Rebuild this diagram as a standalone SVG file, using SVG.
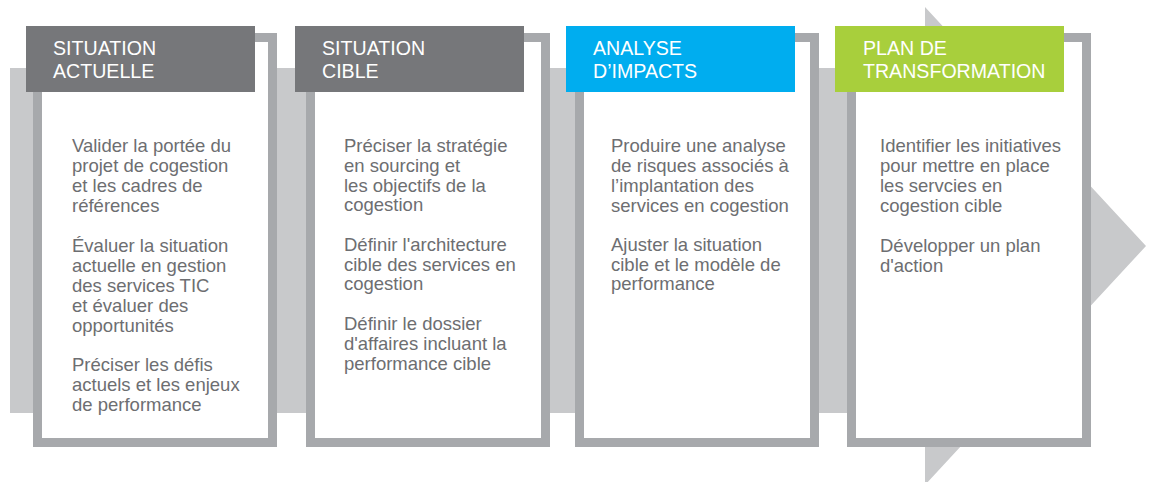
<svg xmlns="http://www.w3.org/2000/svg" width="1149" height="482" viewBox="0 0 1149 482">
<style>
.band{fill:#c8c9cb}
.frame{fill:#ffffff;stroke:#a7a9ac;stroke-width:9}
.hd{font-family:"Liberation Sans",Arial,sans-serif;font-size:19.6px;fill:#ffffff}
.bd{font-family:"Liberation Sans",Arial,sans-serif;font-size:18.5px;fill:#6d6e71}
</style>
<rect width="1149" height="482" fill="#ffffff"/>
<g id="connectors">
<path class="band" d="M10,68 H925 V7 L1146,246 L925,485 V413 H10 Z"/>
</g>
<g id="node-situation-actuelle">
<rect class="frame" x="37.5" y="37.5" width="235" height="405"/>
<rect x="26" y="26" width="229" height="66" fill="#76777a"/>
<text class="hd"><tspan x="53" y="55">SITUATION</tspan><tspan x="53" y="78">ACTUELLE</tspan></text>
<text class="bd">
<tspan x="72" y="152">Valider la portée du</tspan>
<tspan x="72" y="172">projet de cogestion</tspan>
<tspan x="72" y="192">et les cadres de</tspan>
<tspan x="72" y="212">références</tspan>
<tspan x="72" y="252">Évaluer la situation</tspan>
<tspan x="72" y="272">actuelle en gestion</tspan>
<tspan x="72" y="292">des services TIC</tspan>
<tspan x="72" y="312">et évaluer des</tspan>
<tspan x="72" y="332">opportunités</tspan>
<tspan x="72" y="371">Préciser les défis</tspan>
<tspan x="72" y="391">actuels et les enjeux</tspan>
<tspan x="72" y="411">de performance</tspan>
</text>
</g>
<g id="node-situation-cible">
<rect class="frame" x="310.5" y="37.5" width="235" height="405"/>
<rect x="295" y="26" width="229" height="66" fill="#76777a"/>
<text class="hd"><tspan x="322" y="55">SITUATION</tspan><tspan x="322" y="78">CIBLE</tspan></text>
<text class="bd">
<tspan x="344" y="152">Préciser la stratégie</tspan>
<tspan x="344" y="172">en sourcing et</tspan>
<tspan x="344" y="192">les objectifs de la</tspan>
<tspan x="344" y="211">cogestion</tspan>
<tspan x="344" y="251">Définir l'architecture</tspan>
<tspan x="344" y="271">cible des services en</tspan>
<tspan x="344" y="290">cogestion</tspan>
<tspan x="344" y="330">Définir le dossier</tspan>
<tspan x="344" y="350">d'affaires incluant la</tspan>
<tspan x="344" y="370">performance cible</tspan>
</text>
</g>
<g id="node-analyse-impacts">
<rect class="frame" x="579.5" y="37.5" width="235" height="405"/>
<rect x="566" y="26" width="229" height="66" fill="#00adef"/>
<text class="hd"><tspan x="593" y="55">ANALYSE</tspan><tspan x="593" y="78">D’IMPACTS</tspan></text>
<text class="bd">
<tspan x="611" y="152">Produire une analyse</tspan>
<tspan x="611" y="172">de risques associés à</tspan>
<tspan x="611" y="192">l’implantation des</tspan>
<tspan x="611" y="212">services en cogestion</tspan>
<tspan x="611" y="251">Ajuster la situation</tspan>
<tspan x="611" y="271">cible et le modèle de</tspan>
<tspan x="611" y="290">performance</tspan>
</text>
</g>
<g id="node-plan-transformation">
<rect class="frame" x="851.5" y="37.5" width="235" height="405"/>
<rect x="835" y="26" width="229" height="66" fill="#a8cf3c"/>
<text class="hd"><tspan x="863" y="55">PLAN DE</tspan><tspan x="863" y="78">TRANSFORMATION</tspan></text>
<text class="bd">
<tspan x="880" y="152">Identifier les initiatives</tspan>
<tspan x="880" y="172">pour mettre en place</tspan>
<tspan x="880" y="192">les servcies en</tspan>
<tspan x="880" y="212">cogestion cible</tspan>
<tspan x="880" y="252">Développer un plan</tspan>
<tspan x="880" y="272">d'action</tspan>
</text>
</g>
</svg>
